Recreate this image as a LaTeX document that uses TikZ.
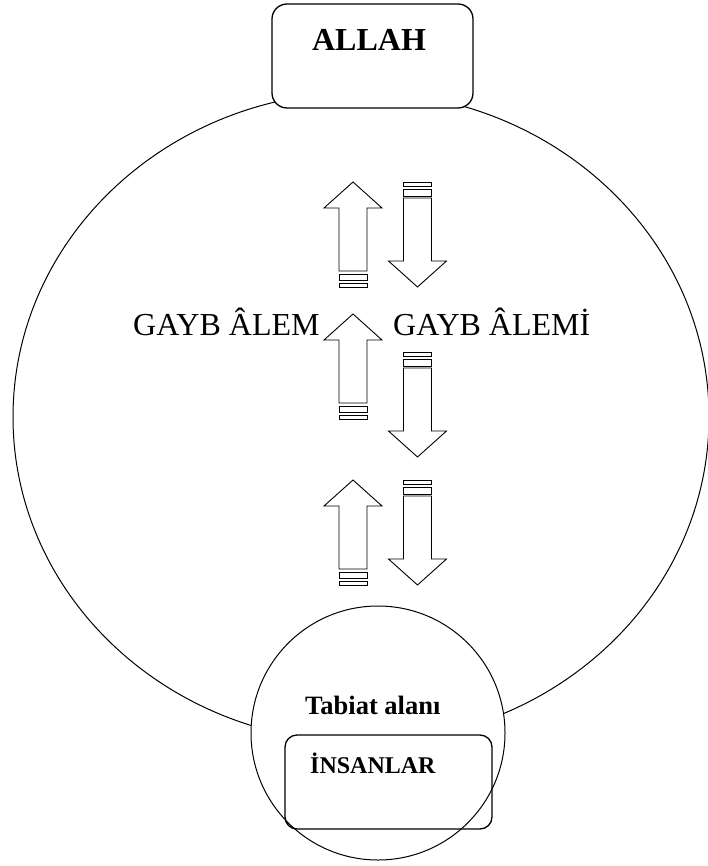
\documentclass[tikz,border=0pt]{standalone}
\usepackage{fontspec}
\setmainfont{Liberation Serif}
\usetikzlibrary{calc}

\begin{document}
\begin{tikzpicture}[x=1pt, y=-1pt,
  box/.style={draw, line width=1.3pt, rounded corners=15pt},
  arr/.style={draw, line width=0.9pt},
  big/.style={font=\fontsize{32}{38}\selectfont},
  bigb/.style={font=\bfseries\fontsize{32}{38}\selectfont},
  midb/.style={font=\bfseries\fontsize{26.5}{32}\selectfont},
  smallb/.style={font=\bfseries\fontsize{24}{29}\selectfont}]
\useasboundingbox (0,0) rectangle (707,866);
% the world
\draw[line width=1pt] (361,417) ellipse [x radius=348pt, y radius=325pt];
% top
\node[box, fill=white, minimum width=201pt, minimum height=104pt] (allahbox) at (372.5,56) {};
\node[bigb, anchor=base] (allah) at (369,51) {ALLAH};
% arrows going up
\foreach \ty in {182,314,480}{
  \begin{scope}[shift={(353,\ty)}]
  \draw[arr] (0,0) -- (29,26) -- (14,26) -- (14,89) -- (-14,89) -- (-14,26) -- (-29,26) -- cycle;
  \draw[arr] (-14,92) rectangle (14,98);
  \draw[arr] (-14,101) rectangle (14,105);
  \end{scope}
}
% arrows going down
\foreach \ty in {182,352,480}{
  \begin{scope}[shift={(417.5,\ty)}]
  \draw[arr] (-14,0) rectangle (14,4);
  \draw[arr] (-14,7) rectangle (14,14);
  \draw[arr] (-14,16) -- (14,16) -- (14,79) -- (29,79) -- (0,105) -- (-29,79) -- (-14,79) -- cycle;
  \end{scope}
}
\node[big, anchor=base west, inner sep=0] (gayb1) at (133,335) {GAYB ÂLEM};
\node[big, anchor=base west, inner sep=0] (gayb2) at (393,335) {GAYB ÂLEMİ};
% bottom
\node[draw, circle, line width=1pt, fill=white, minimum size=254pt, inner sep=0] (tabiat) at (378,733) {};
\node[midb, anchor=base west, inner sep=0] (tabiatlbl) at (305,714) {Tabiat alanı};
\node[box, rounded corners=12pt, minimum width=207pt, minimum height=94pt] (insanbox) at (388.5,782) {};
\node[smallb, anchor=base west, inner sep=0] (insan) at (310,773) {İNSANLAR};
\end{tikzpicture}
\end{document}
